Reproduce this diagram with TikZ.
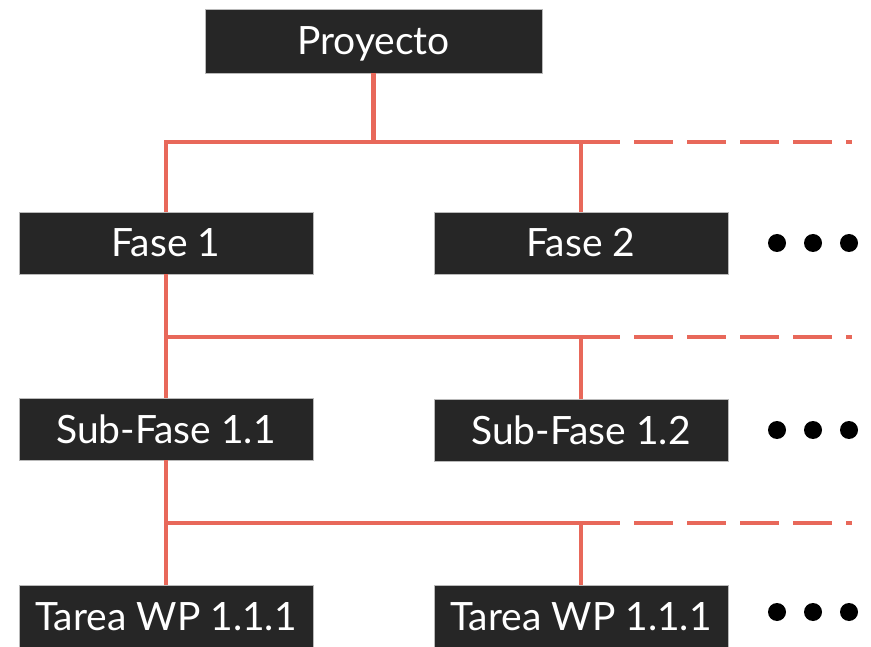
\documentclass[tikz,border=0pt]{standalone}
\usepackage{fontspec}
\setmainfont{Lato}
\definecolor{boxgray}{RGB}{38,38,38}
\definecolor{wirered}{RGB}{232,104,90}
\tikzset{
    box/.style = {rectangle, fill = boxgray, draw = gray!55, line width = 0.6pt,
                  minimum width = 294pt, minimum height = 62pt, inner sep = 0pt,
                  text = white, text height = 28pt, text depth = 0pt,
                  font = \fontsize{39}{46}\selectfont},
    wire/.style = {draw = wirered, line width = 4.5pt},
    more/.style = {wire, dash pattern = on 39pt off 14pt},
    dot/.style = {circle, fill = black, minimum size = 18pt, inner sep = 0pt}
}
\begin{document}
\begin{tikzpicture}[x = 1pt, y = -1pt]

            \useasboundingbox (0, 0) rectangle (871, 647);

            \node (proj) at (373.5, 41) [box, minimum width = 337pt, minimum height = 64pt] {Proyecto};

            \node (f1) at (166, 243) [box] {Fase 1};
            \node (f2) at (581, 243) [box] {Fase 2};

            \node (s11) at (166, 429) [box] {Sub-Fase 1.1};
            \node (s12) at (581, 430) [box] {Sub-Fase 1.2};

            \node (t1) at (166, 616) [box] {Tarea WP 1.1.1};
            \node (t2) at (581, 616) [box] {Tarea WP 1.1.1};

            \coordinate (j1) at (373.5, 142);
            \coordinate (j2) at (166, 337);
            \coordinate (j3) at (166, 523);
            \coordinate (e1) at (852, 142);
            \coordinate (e2) at (852, 337);
            \coordinate (e3) at (852, 523);

            % level 1
            \draw[wire] (proj.south) -- (j1);
            \draw[wire] (f1.north) |- (f2.north |- j1) -- (f2.north);
            \draw[more] (f2.north |- j1) -- (e1);

            % level 2
            \draw[wire] (f1.south) -- (s11.north);
            \draw[wire] (j2) -- (s12.north |- j2) -- (s12.north);
            \draw[more] (s12.north |- j2) -- (e2);

            % level 3
            \draw[wire] (s11.south) -- (t1.north);
            \draw[wire] (j3) -- (t2.north |- j3) -- (t2.north);
            \draw[more] (t2.north |- j3) -- (e3);

            \node (d1a) at (777, 243) [dot] {};
            \node (d1b) at (813, 243) [dot] {};
            \node (d1c) at (849, 243) [dot] {};

            \node (d2a) at (777, 430) [dot] {};
            \node (d2b) at (813, 430) [dot] {};
            \node (d2c) at (849, 430) [dot] {};

            \node (d3a) at (777, 612) [dot] {};
            \node (d3b) at (813, 612) [dot] {};
            \node (d3c) at (849, 612) [dot] {};
        \end{tikzpicture}
\end{document}
